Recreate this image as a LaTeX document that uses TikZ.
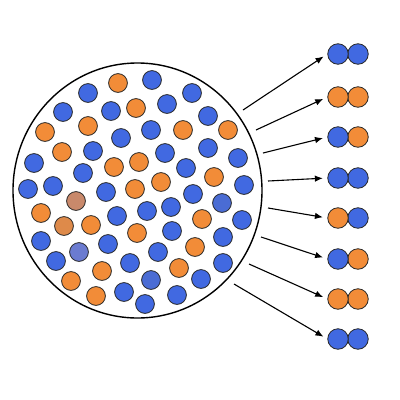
\documentclass[tikz,border=0pt]{standalone}
\usetikzlibrary{arrows.meta,shapes.geometric}
\definecolor{cblue}{HTML}{4169E1}
\definecolor{corange}{HTML}{F28C38}
\definecolor{cbrown}{HTML}{C9896B}
\definecolor{corbr}{HTML}{DE8A4A}
\definecolor{cpurp}{HTML}{6B7BD0}
\definecolor{cmblue}{HTML}{4A6CD4}
\tikzset{
  dot/.style={circle, draw=black!85, line width=0.8pt, minimum size=18.8pt, inner sep=0pt},
  pairdot/.style={circle, draw=black!85, line width=0.8pt, minimum size=20.5pt, inner sep=0pt},
  arr/.style={-{Latex[length=8pt,width=6.5pt]}, line width=1.1pt, shorten >=4.5pt},
  bigc/.style={ellipse, draw=black, line width=1.4pt, minimum width=249pt, minimum height=255pt, inner sep=0pt}
}
\begin{document}
\begin{tikzpicture}[x=1pt,y=-1pt]
\useasboundingbox (0,0) rectangle (400,400);
\fill[white] (0,0) rectangle (400,400);
\node[bigc] (big) at (137.5,190.5) {};
\foreach \px/\py/\c [count=\i] in {
118/83/corange, 152/80/cblue, 88/93/cblue, 192/93/cblue, 136/108/corange,
63/112/cblue, 111/111/cblue, 167/104/cblue, 208/116/cblue, 45/132/corange,
88/126/corange, 121/138/cblue, 151/130/cblue, 183/130/corange, 228/130/corange,
34/163/cblue, 62/152/corange, 93/151/cblue, 114/167/corange, 139/162/corange,
165/153/cblue, 208/148/cblue, 238/158/cblue, 83/173/cblue, 186/168/cblue,
161/182/corange, 214/177/corange, 244/185/cblue, 28/189/cblue, 53/186/cblue,
106/192/cblue, 135/189/corange, 193/194/cblue, 76/201/cbrown, 41/213/corange,
64/226/corbr, 91/225/corange, 117/216/cblue, 147/211/cblue, 171/207/cblue,
222/203/cmblue, 202/219/corange, 242/220/cblue, 137/233/corange, 172/231/cblue,
195/247/corange, 223/237/cblue, 41/241/cblue, 79/252/cpurp, 108/244/cblue,
158/252/cblue, 56/261/cblue, 102/271/corange, 130/263/cblue, 179/268/corange,
223/263/cblue, 71/281/corange, 96/296/corange, 124/292/cblue, 151/280/cmblue,
201/279/cblue, 177/295/cblue, 145/304/cblue}
  \node[dot, fill=\c] (d\i) at (\px,\py) {};
% pairs
\foreach \py/\ca/\cb [count=\i] in {
54/cblue/cblue, 97/corange/corange, 137/cblue/corange, 178/cblue/cblue,
218/corange/cblue, 259/cblue/corange, 299/corange/corange, 339/cblue/cblue} {
  \node[pairdot, fill=\cb] (p\i b) at (358,\py) {};
  \node[pairdot, fill=\ca] (p\i a) at (338,\py) {};
}
% arrow starts
\coordinate (s1) at (243,110);
\coordinate (s2) at (256,130);
\coordinate (s3) at (263,153);
\coordinate (s4) at (268,181);
\coordinate (s5) at (268,208);
\coordinate (s6) at (261,237);
\coordinate (s7) at (249,264);
\coordinate (s8) at (234,284);
\foreach \i in {1,...,8}
  \draw[arr] (s\i) -- (p\i a.west);
\end{tikzpicture}
\end{document}
